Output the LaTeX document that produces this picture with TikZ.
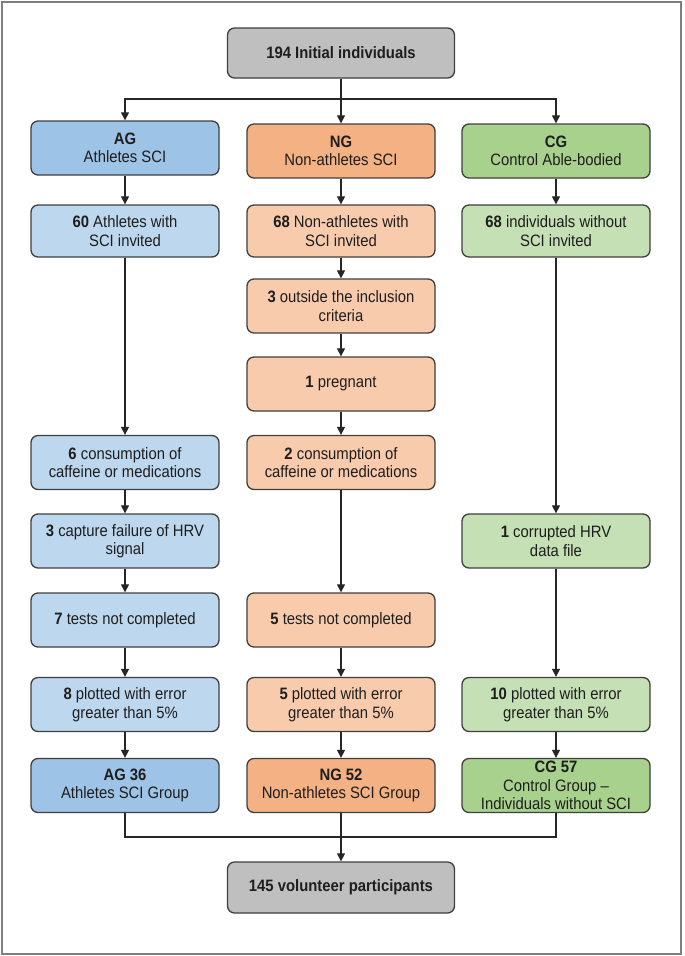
\documentclass[tikz,border=0pt]{standalone}
\usepackage{fontspec}
\setmainfont[FakeStretch=0.9]{Liberation Sans}
\usetikzlibrary{arrows.meta}
\definecolor{agdark}{HTML}{9DC3E6}
\definecolor{aglight}{HTML}{BDD7EE}
\definecolor{ngdark}{HTML}{F4B183}
\definecolor{nglight}{HTML}{F8CBAD}
\definecolor{cgdark}{HTML}{A9D18E}
\definecolor{cglight}{HTML}{C5E0B4}
\definecolor{graybox}{HTML}{BFBFBF}
\definecolor{boxline}{HTML}{3F3F3F}
\definecolor{lineclr}{HTML}{262626}
\definecolor{txt}{HTML}{1E1E1E}
\definecolor{framec}{HTML}{7F7F7F}
\begin{document}
\begin{tikzpicture}[x=1pt,y=-1pt,
  fbox/.style={draw=boxline, line width=1.3pt, rounded corners=7pt,
    minimum width=188pt, minimum height=54pt, inner sep=2pt, align=center,
    font=\fontsize{16.5}{18.5}\selectfont, text=txt},
  conn/.style={draw=lineclr, line width=1.2pt},
  arr/.style={conn, -{Triangle[length=8pt,width=8pt]}}]
\fill[white] (0,0) rectangle (685,956);
\useasboundingbox (0,0) rectangle (685,956);
\draw[framec, line width=2pt] (1.5,1.5) rectangle (681,954);

% top and bottom
\node[fbox, fill=graybox, minimum width=227pt, minimum height=50pt] (top) at (341,53) {\textbf{194 Initial individuals}};
\node[fbox, fill=graybox, minimum width=227pt, minimum height=51pt] (fin) at (341,887.5) {\textbf{145 volunteer participants}};

% AG column
\node[fbox, fill=agdark] (ag0) at (125,148) {\textbf{AG}\\Athletes SCI};
\node[fbox, fill=aglight, minimum height=52pt] (ag1) at (125,231) {\textbf{60} Athletes with\\SCI invited};
\node[fbox, fill=aglight] (ag2) at (125,462.5) {\textbf{6} consumption of\\caffeine or medications};
\node[fbox, fill=aglight] (ag3) at (125,541) {\textbf{3} capture failure of HRV\\signal};
\node[fbox, fill=aglight] (ag4) at (125,620) {\textbf{7} tests not completed};
\node[fbox, fill=aglight] (ag5) at (125,704.5) {\textbf{8} plotted with error\\greater than 5\%};
\node[fbox, fill=agdark] (ag6) at (125,785.5) {\textbf{AG 36}\\Athletes SCI Group};

% NG column
\node[fbox, fill=ngdark] (ng0) at (341,151) {\textbf{NG}\\Non-athletes SCI};
\node[fbox, fill=nglight, minimum height=52pt] (ng1) at (341,231) {\textbf{68} Non-athletes with\\SCI invited};
\node[fbox, fill=nglight] (ng2) at (341,306) {\textbf{3} outside the inclusion\\criteria};
\node[fbox, fill=nglight] (ng3) at (341,384) {\textbf{1} pregnant};
\node[fbox, fill=nglight] (ng4) at (341,462.5) {\textbf{2} consumption of\\caffeine or medications};
\node[fbox, fill=nglight] (ng5) at (341,620) {\textbf{5} tests not completed};
\node[fbox, fill=nglight] (ng6) at (341,704.5) {\textbf{5} plotted with error\\greater than 5\%};
\node[fbox, fill=ngdark] (ng7) at (341,785.5) {\textbf{NG 52}\\Non-athletes SCI Group};

% CG column
\node[fbox, fill=cgdark] (cg0) at (556,151) {\textbf{CG}\\Control Able-bodied};
\node[fbox, fill=cglight, minimum height=52pt] (cg1) at (556,231) {\textbf{68} individuals without\\SCI invited};
\node[fbox, fill=cglight] (cg2) at (556,541) {\textbf{1} corrupted HRV\\data file};
\node[fbox, fill=cglight] (cg3) at (556,704.5) {\textbf{10} plotted with error\\greater than 5\%};
\node[fbox, fill=cgdark] (cg4) at (556,785.5) {\textbf{CG 57}\\Control Group --\\Individuals without SCI};

% top split
\coordinate (jt) at (341,99);
\draw[conn] (top.south) -- (jt);
\draw[arr] (jt) -| (ag0.north);
\draw[arr] (jt) -| (cg0.north);
\draw[arr] (jt) -- (ng0.north);

% AG arrows
\draw[arr] (ag0) -- (ag1);
\draw[arr] (ag1) -- (ag2);
\draw[arr] (ag2) -- (ag3);
\draw[arr] (ag3) -- (ag4);
\draw[arr] (ag4) -- (ag5);
\draw[arr] (ag5) -- (ag6);

% NG arrows
\draw[arr] (ng0) -- (ng1);
\draw[arr] (ng1) -- (ng2);
\draw[arr] (ng2) -- (ng3);
\draw[arr] (ng3) -- (ng4);
\draw[arr] (ng4) -- (ng5);
\draw[arr] (ng5) -- (ng6);
\draw[arr] (ng6) -- (ng7);

% CG arrows
\draw[arr] (cg0) -- (cg1);
\draw[arr] (cg1) -- (cg2);
\draw[arr] (cg2) -- (cg3);
\draw[arr] (cg3) -- (cg4);

% bottom merge
\coordinate (jb) at (341,837);
\draw[conn] (ag6.south) |- (jb);
\draw[conn] (cg4.south) |- (jb);
\draw[arr] (ng7.south) -- (fin.north);
\end{tikzpicture}
\end{document}
